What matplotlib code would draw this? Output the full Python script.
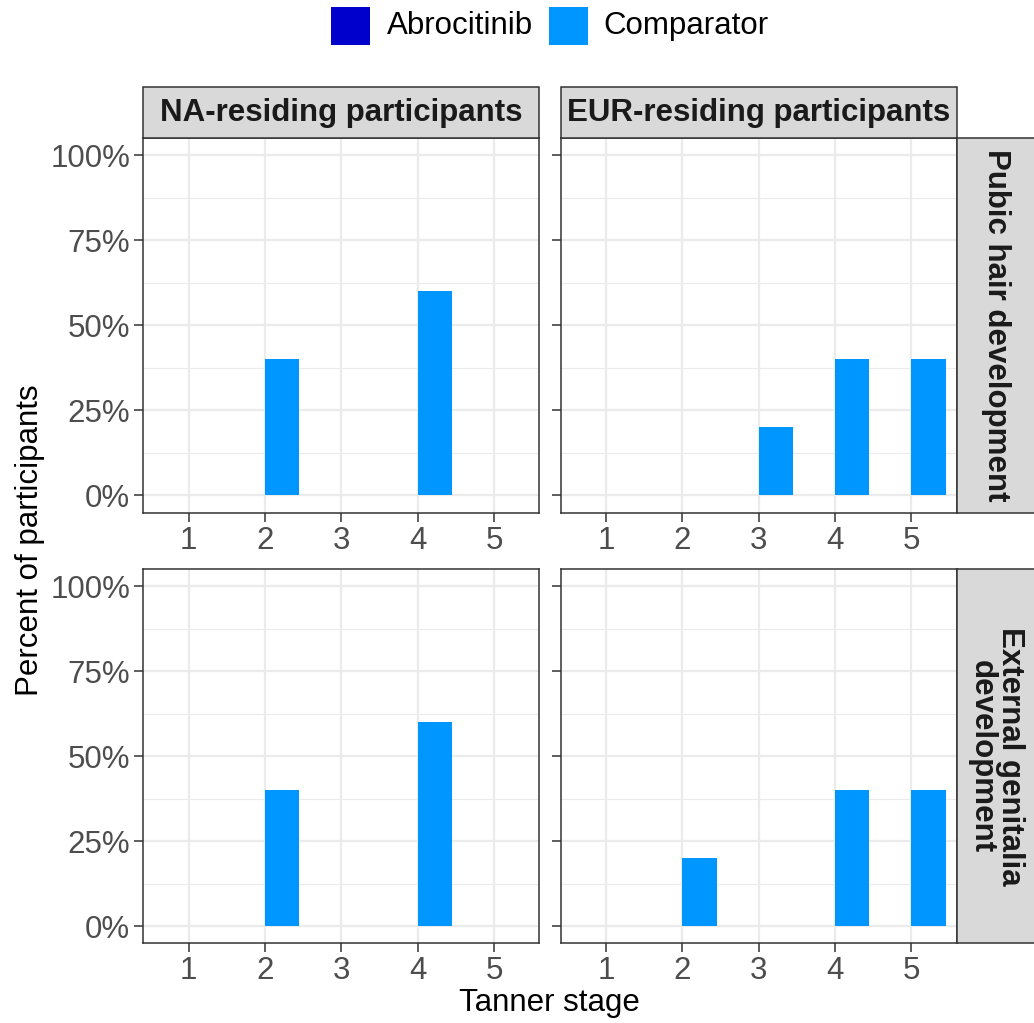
import matplotlib
matplotlib.use("Agg")
import matplotlib.pyplot as plt
from matplotlib.patches import Rectangle
from matplotlib.ticker import FixedLocator, FuncFormatter

plt.rcParams['font.family'] = ['Liberation Sans', 'DejaVu Sans']

# Data
stages = [1, 2, 3, 4, 5]
groups = ["Abrocitinib", "Comparator"]
colors = {"Abrocitinib": "#0000CD", "Comparator": "#0096FF"}
regions = ["NA-residing participants", "EUR-residing participants"]
measures = ["Pubic hair development", "External genitalia\ndevelopment"]

# percent of participants per Tanner stage
abro_na_pubic = [0, 0, 0, 0, 0]
comp_na_pubic = [0, 40, 0, 60, 0]
abro_eur_pubic = [0, 0, 0, 0, 0]
comp_eur_pubic = [0, 0, 20, 40, 40]
abro_na_genital = [0, 0, 0, 0, 0]
comp_na_genital = [0, 40, 0, 60, 0]
abro_eur_genital = [0, 0, 0, 0, 0]
comp_eur_genital = [0, 20, 0, 40, 40]

values = {
    (0, 0): (abro_na_pubic, comp_na_pubic),
    (0, 1): (abro_eur_pubic, comp_eur_pubic),
    (1, 0): (abro_na_genital, comp_na_genital),
    (1, 1): (abro_eur_genital, comp_eur_genital),
}

W, H = 1034, 1023
fig = plt.figure(figsize=(W / 100, H / 100), dpi=100)

panel_x = [143.3, 560.7]
panel_w = 396.0
panel_top = [138.3, 569.0]
panel_h = 374.2

grey20 = "#333333"
grey30 = "#4D4D4D"
grid_col = "#EBEBEB"
FS = 22.5

bar_w = 0.45
for r in range(2):
    for c in range(2):
        ax = fig.add_axes([panel_x[c] / W, 1 - (panel_top[r] + panel_h) / H,
                           panel_w / W, panel_h / H])
        ax.set_xlim(0.405, 5.594)
        ax.set_ylim(-5, 105)
        ax.set_axisbelow(True)
        ax.yaxis.set_major_locator(FixedLocator([0, 25, 50, 75, 100]))
        ax.yaxis.set_minor_locator(FixedLocator([12.5, 37.5, 62.5, 87.5]))
        ax.xaxis.set_major_locator(FixedLocator(stages))
        ax.grid(True, which="major", color=grid_col, linewidth=1.6)
        ax.grid(True, which="minor", axis="y", color=grid_col, linewidth=0.8)
        abro, comp = values[(r, c)]
        ax.bar([s - bar_w / 2 for s in stages], abro, width=bar_w,
               color=colors["Abrocitinib"], linewidth=0)
        ax.bar([s + bar_w / 2 for s in stages], comp, width=bar_w,
               color=colors["Comparator"], linewidth=0)
        for sp in ax.spines.values():
            sp.set_color(grey20)
            sp.set_linewidth(1.1)
        ax.tick_params(axis="both", which="major", length=6.5, width=1.1,
                       color=grey20, labelcolor=grey30, labelsize=FS)
        ax.tick_params(axis="y", which="minor", length=0)
        ax.tick_params(axis="x", pad=3)
        ax.tick_params(axis="y", pad=3)
        if c == 0:
            ax.yaxis.set_major_formatter(FuncFormatter(lambda v, p: f"{int(v)}%"))
        else:
            ax.set_yticklabels([])

# Column strips
for c in range(2):
    x0 = panel_x[c] / W
    y0 = 1 - panel_top[0] / H
    sh = 51 / H
    fig.patches.append(Rectangle((x0, y0), panel_w / W, sh, transform=fig.transFigure,
                                 facecolor="#D9D9D9", edgecolor=grey20, linewidth=1.1))
    fig.text(x0 + panel_w / W / 2, y0 + sh / 2, regions[c], ha="center", va="center",
             fontsize=FS, fontweight="bold", color="#1A1A1A")

# Row strips
for r in range(2):
    x0 = 957.3 / W
    y0 = 1 - (panel_top[r] + panel_h) / H
    fig.patches.append(Rectangle((x0, y0), 90 / W, panel_h / H, transform=fig.transFigure,
                                 facecolor="#D9D9D9", edgecolor=grey20, linewidth=1.1))
    fig.text(996 / W, y0 + panel_h / H / 2, measures[r], ha="center", va="center",
             rotation=270, fontsize=FS, fontweight="bold", color="#1A1A1A",
             multialignment="center", linespacing=0.95)

# Axis titles
fig.text(549 / W, 1 - 1003 / H, "Tanner stage", ha="center", va="center",
         fontsize=FS, color="black")
fig.text(30 / W, 1 - 540 / H, "Percent of participants", ha="center", va="center",
         rotation=90, fontsize=FS, color="black")

# Legend
legend_items = [("Abrocitinib", 331, 387), ("Comparator", 549, 603)]
for name, sx, tx in legend_items:
    fig.patches.append(Rectangle((sx / W, 1 - 45 / H), 38.5 / W, 38.5 / H,
                                 transform=fig.transFigure,
                                 facecolor=colors[name], edgecolor="none"))
    fig.text(tx / W, 1 - 26 / H, name, ha="left", va="center",
             fontsize=FS, color="black")

fig.savefig("out.png", dpi=100)
